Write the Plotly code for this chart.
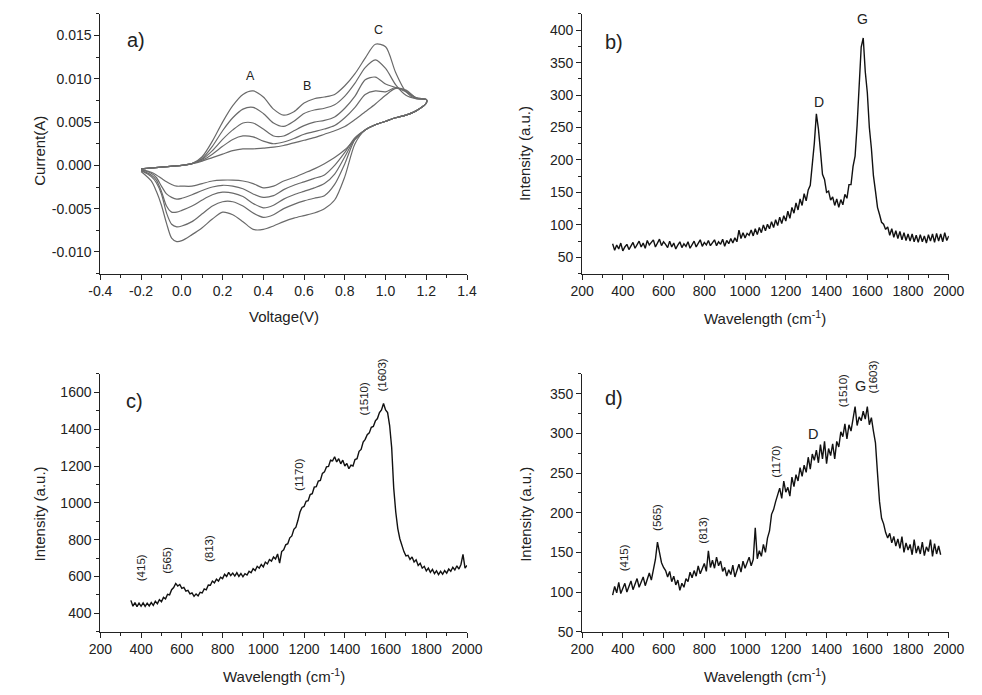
import plotly.graph_objects as go

# ---------------- Panel a: cyclic voltammograms (5 cycles) ----------------
CV_FWD_V = [-0.2, -0.1, 0.0, 0.05, 0.1, 0.15, 0.2, 0.25, 0.3, 0.35, 0.4, 0.45, 0.5, 0.55,
            0.6, 0.65, 0.7, 0.75, 0.8, 0.85, 0.9, 0.95, 1.0, 1.05, 1.1, 1.15, 1.2]
CV_REV_V = [1.2, 1.15, 1.1, 1.05, 1.0, 0.95, 0.9, 0.85, 0.8, 0.75, 0.7, 0.65, 0.6, 0.55, 0.5,
            0.45, 0.4, 0.35, 0.3, 0.25, 0.2, 0.15, 0.1, 0.05, 0.0, -0.025, -0.05, -0.075,
            -0.1, -0.125, -0.15, -0.2]

CV1_FWD = [-0.0004, -0.0002, 0.0000, 0.0002, 0.0010, 0.0028, 0.0050, 0.0069, 0.0082, 0.0086,
           0.0079, 0.0065, 0.0058, 0.0062, 0.0072, 0.0077, 0.0079, 0.0082, 0.0092, 0.0106,
           0.0124, 0.0140, 0.0137, 0.0107, 0.0085, 0.0077, 0.0076]
CV2_FWD = [-0.0004, -0.0002, 0.0000, 0.0002, 0.0008, 0.0022, 0.0040, 0.0055, 0.0065, 0.0067,
           0.0060, 0.0049, 0.0045, 0.0051, 0.0060, 0.0064, 0.0066, 0.0070, 0.0080, 0.0095,
           0.0113, 0.0122, 0.0112, 0.0093, 0.0081, 0.0077, 0.0076]
CV3_FWD = [-0.0004, -0.0002, 0.0000, 0.0002, 0.0007, 0.0017, 0.0030, 0.0041, 0.0049, 0.0049,
           0.0042, 0.0034, 0.0034, 0.0040, 0.0046, 0.0050, 0.0052, 0.0056, 0.0066, 0.0080,
           0.0099, 0.0102, 0.0094, 0.0090, 0.0085, 0.0078, 0.0076]
CV4_FWD = [-0.0004, -0.0002, 0.0000, 0.0002, 0.0006, 0.0013, 0.0022, 0.0030, 0.0034, 0.0033,
           0.0028, 0.0025, 0.0027, 0.0031, 0.0036, 0.0039, 0.0042, 0.0046, 0.0055, 0.0067,
           0.0082, 0.0086, 0.0085, 0.0090, 0.0086, 0.0078, 0.0076]
CV5_FWD = [-0.0004, -0.0002, 0.0000, 0.0002, 0.0005, 0.0009, 0.0013, 0.0017, 0.0019, 0.0019,
           0.0020, 0.0021, 0.0023, 0.0026, 0.0029, 0.0032, 0.0036, 0.0040, 0.0045, 0.0053,
           0.0062, 0.0071, 0.0081, 0.0089, 0.0087, 0.0078, 0.0076]

CV1_REV = [0.0072, 0.0063, 0.0058, 0.0055, 0.0051, 0.0047, 0.0041, 0.0025, -0.0013, -0.0040,
           -0.0050, -0.0055, -0.0058, -0.0061, -0.0065, -0.0070, -0.0074, -0.0074, -0.0065,
           -0.0057, -0.0054, -0.0062, -0.0072, -0.0080, -0.0087, -0.0088, -0.0084, -0.0067,
           -0.0046, -0.0030, -0.0018, -0.0007]
CV2_REV = [0.0072, 0.0063, 0.0058, 0.0055, 0.0051, 0.0047, 0.0041, 0.0030, 0.0002, -0.0022,
           -0.0035, -0.0038, -0.0041, -0.0045, -0.0050, -0.0057, -0.0060, -0.0055, -0.0047,
           -0.0042, -0.0042, -0.0047, -0.0056, -0.0065, -0.0070, -0.0071, -0.0068, -0.0055,
           -0.0033, -0.0020, -0.0013, -0.0006]
CV3_REV = [0.0072, 0.0063, 0.0058, 0.0055, 0.0051, 0.0047, 0.0041, 0.0031, 0.0010, -0.0010,
           -0.0021, -0.0026, -0.0030, -0.0034, -0.0039, -0.0046, -0.0049, -0.0044, -0.0036,
           -0.0032, -0.0031, -0.0034, -0.0040, -0.0047, -0.0052, -0.0054, -0.0054, -0.0047,
           -0.0030, -0.0017, -0.0011, -0.0006]
CV4_REV = [0.0072, 0.0063, 0.0058, 0.0055, 0.0051, 0.0047, 0.0041, 0.0032, 0.0015, 0.0000,
           -0.0011, -0.0015, -0.0019, -0.0023, -0.0028, -0.0035, -0.0037, -0.0033, -0.0027,
           -0.0024, -0.0023, -0.0025, -0.0029, -0.0034, -0.0038, -0.0039, -0.0037, -0.0033,
           -0.0024, -0.0014, -0.0009, -0.0005]
CV5_REV = [0.0072, 0.0063, 0.0058, 0.0055, 0.0051, 0.0047, 0.0041, 0.0030, 0.0018, 0.0009,
           0.0002, -0.0004, -0.0009, -0.0014, -0.0018, -0.0024, -0.0026, -0.0021, -0.0018,
           -0.0017, -0.0017, -0.0018, -0.0021, -0.0024, -0.0024, -0.0024, -0.0022, -0.0019,
           -0.0015, -0.0011, -0.0008, -0.0005]

CV_XTICKS = [-0.4, -0.2, 0.0, 0.2, 0.4, 0.6, 0.8, 1.0, 1.2, 1.4]
CV_XLABELS = ["-0.4", "-0.2", "0.0", "0.2", "0.4", "0.6", "0.8", "1.0", "1.2", "1.4"]
CV_YTICKS = [-0.010, -0.005, 0.0, 0.005, 0.010, 0.015]
CV_YLABELS = ["-0.010", "-0.005", "0.000", "0.005", "0.010", "0.015"]
CV_XMINOR = [-0.3, -0.1, 0.1, 0.3, 0.5, 0.7, 0.9, 1.1, 1.3]
CV_YMINOR = [-0.0125, -0.0075, -0.0025, 0.0025, 0.0075, 0.0125, 0.0175]

# ---------------- Raman spectra (step 10 cm-1) ----------------
WN_B = list(range(350, 2001, 10))
INT_B = [71, 61, 69, 63, 72, 60, 66, 70, 62, 68,
         73, 64, 70, 75, 66, 72, 64, 76, 69, 73,
         77, 66, 72, 78, 68, 74, 70, 65, 75, 66,
         72, 63, 69, 74, 65, 71, 67, 74, 64, 70,
         75, 66, 72, 77, 67, 73, 69, 76, 68, 72,
         77, 68, 74, 70, 78, 67, 76, 71, 79, 72,
         80, 74, 92, 79, 88, 80, 87, 84, 92, 83,
         94, 85, 96, 88, 100, 91, 101, 94, 105, 96,
         108, 99, 112, 102, 114, 106, 121, 110, 127, 118,
         134, 123, 140, 130, 148, 137, 154, 161, 192, 226,
         271, 248, 214, 178, 170, 150, 152, 138, 143, 130,
         140, 127, 139, 131, 147, 141, 162, 162, 190, 206,
         254, 306, 374, 388, 336, 304, 250, 218, 176, 152,
         127, 116, 104, 101, 93, 97, 84, 94, 81, 91,
         79, 90, 77, 88, 76, 86, 75, 86, 74, 84,
         73, 85, 74, 83, 72, 85, 75, 86, 73, 87,
         75, 86, 74, 88, 76, 83]

WN_C = list(range(350, 2001, 10))
INT_C = [470, 438, 458, 436, 455, 438, 456, 437, 455, 440,
         458, 443, 465, 452, 474, 462, 486, 478, 503, 500,
         528, 540, 562, 548, 556, 535, 540, 520, 524, 505,
         510, 492, 505, 494, 514, 510, 532, 527, 553, 552,
         575, 565, 585, 575, 596, 588, 612, 600, 622, 605,
         618, 602, 620, 600, 616, 598, 615, 608, 628, 620,
         642, 632, 655, 645, 665, 652, 678, 668, 692, 683,
         706, 695, 722, 672, 735, 745, 772, 778, 810, 820,
         856, 868, 905, 950, 975, 980, 1008, 1012, 1045, 1050,
         1085, 1088, 1118, 1122, 1160, 1168, 1195, 1198, 1232, 1228,
         1250, 1222, 1240, 1212, 1232, 1200, 1214, 1185, 1205, 1200,
         1235, 1240, 1280, 1290, 1330, 1345, 1370, 1380, 1410, 1415,
         1445, 1458, 1490, 1505, 1540, 1505, 1490, 1420, 1300, 1080,
         950, 860, 805, 762, 735, 712, 715, 692, 706, 678,
         690, 660, 672, 645, 655, 630, 645, 622, 638, 615,
         630, 610, 628, 612, 632, 618, 640, 628, 650, 635,
         658, 640, 665, 720, 645, 660]

WN_D = list(range(350, 1961, 10))
INT_D = [96, 107, 99, 112, 98, 104, 111, 100, 106, 114,
         103, 110, 117, 106, 112, 119, 108, 116, 124, 115,
         126, 141, 163, 148, 137, 131, 127, 119, 126, 113,
         120, 109, 115, 102, 111, 106, 117, 113, 125, 118,
         127, 120, 133, 123, 129, 136, 126, 152, 131, 140,
         130, 144, 133, 139, 126, 131, 120, 128, 122, 134,
         119, 127, 135, 125, 139, 130, 136, 144, 133, 141,
         181, 142, 152, 145, 160, 150, 168, 177, 198, 204,
         214, 222, 231, 218, 240, 226, 232, 221, 245, 233,
         248, 240, 257, 246, 260, 251, 270, 255, 274, 266,
         279, 263, 286, 268, 290, 262, 281, 272, 287, 268,
         290, 283, 302, 296, 312, 293, 311, 303, 320, 334,
         310, 321, 316, 328, 318, 334, 311, 320, 303, 288,
         250, 214, 193, 186, 175, 168, 174, 162, 170, 158,
         167, 155, 170, 150, 162, 153, 160, 147, 166, 149,
         158, 148, 163, 146, 157, 151, 166, 145, 161, 148,
         158, 147]

# ---------------- Figure ----------------
FONT = "Liberation Sans, Arial, Helvetica, sans-serif"
AX = "#222222"
W, H = 974, 687          # page body has an 8 px margin


def PX(x):
    return (x - 8) / W


def PY(y):
    return 1 - (y - 8) / H


fig = go.Figure()

for fwd, rev in [(CV1_FWD, CV1_REV), (CV2_FWD, CV2_REV), (CV3_FWD, CV3_REV),
                 (CV4_FWD, CV4_REV), (CV5_FWD, CV5_REV)]:
    fig.add_trace(go.Scatter(x=CV_FWD_V + CV_REV_V, y=fwd + rev, mode="lines",
                             line=dict(color="#6a6a6a", width=1.2, shape="spline", smoothing=0.8),
                             xaxis="x", yaxis="y", showlegend=False, hoverinfo="skip"))

for wn, inten, xa, ya in [(WN_B, INT_B, "x2", "y2"), (WN_C, INT_C, "x3", "y3"), (WN_D, INT_D, "x4", "y4")]:
    fig.add_trace(go.Scatter(x=wn, y=inten, mode="lines", line=dict(color="#111111", width=1.4),
                             xaxis=xa, yaxis=ya, showlegend=False, hoverinfo="skip"))


def axis(domain, anchor, rng, **kw):
    d = dict(domain=domain, anchor=anchor, range=rng, showline=True, linecolor=AX, linewidth=1,
             ticks="outside", ticklen=5, tickwidth=1, tickcolor=AX, showgrid=False,
             zeroline=False, tickfont=dict(family=FONT, size=14, color=AX))
    d.update(kw)
    return d


XL = [PX(90.7), PX(468.3)]
XR = [PX(586.7), PX(964.3)]
YT = [PY(276.7), PY(14)]
YB = [PY(639), PY(378.3)]
MINOR = dict(ticks="outside", ticklen=3, tickwidth=1, tickcolor=AX, showgrid=False)

fig.update_layout(
    width=W, height=H, margin=dict(l=0, r=0, t=0, b=0),
    paper_bgcolor="white", plot_bgcolor="white", showlegend=False,
    font=dict(family=FONT, color=AX),
    xaxis=axis(XL, "y", [-0.4, 1.4], tickmode="array", tickvals=CV_XTICKS, ticktext=CV_XLABELS,
               minor=dict(MINOR, tickmode="array", tickvals=CV_XMINOR)),
    yaxis=axis(YT, "x", [-0.0125, 0.0175], tickmode="array", tickvals=CV_YTICKS, ticktext=CV_YLABELS,
               minor=dict(MINOR, tickmode="array", tickvals=CV_YMINOR)),
    xaxis2=axis(XR, "y2", [200, 2000], tickmode="linear", tick0=200, dtick=200,
                minor=dict(MINOR, dtick=100)),
    yaxis2=axis(YT, "x2", [25, 425], tickmode="linear", tick0=50, dtick=50,
                minor=dict(MINOR, dtick=25)),
    xaxis3=axis(XL, "y3", [200, 2000], tickmode="linear", tick0=200, dtick=200,
                minor=dict(MINOR, dtick=100)),
    yaxis3=axis(YB, "x3", [300, 1700], tickmode="linear", tick0=400, dtick=200,
                minor=dict(MINOR, dtick=100)),
    xaxis4=axis(XR, "y4", [200, 2000], tickmode="linear", tick0=200, dtick=200,
                minor=dict(MINOR, dtick=100)),
    yaxis4=axis(YB, "x4", [50, 375], tickmode="linear", tick0=50, dtick=50,
                minor=dict(MINOR, dtick=25)),
)

ann = []


def txt(text, x, y, xref, yref, size, angle=0):
    ann.append(dict(text=text, x=x, y=y, xref=xref, yref=yref, showarrow=False,
                    xanchor="center", yanchor="middle", textangle=angle,
                    font=dict(family=FONT, size=size, color=AX)))


# panel letters
txt("a)", 0.096, 0.901, "x domain", "y domain", 20)
txt("b)", 0.088, 0.893, "x2 domain", "y2 domain", 20)
txt("c)", 0.093, 0.895, "x3 domain", "y3 domain", 20)
txt("d)", 0.088, 0.905, "x4 domain", "y4 domain", 20)

# panel a peak labels
txt("A", 0.335, 0.0103, "x", "y", 12.5)
txt("B", 0.612, 0.0092, "x", "y", 12.5)
txt("C", 0.965, 0.0157, "x", "y", 12.5)

# panel b
txt("D", 1361, 289, "x2", "y2", 14)
txt("G", 1576, 417, "x2", "y2", 14)

# panel c
for t, x, y in [("(415)", 400, 645), ("(565)", 527, 690), ("(813)", 737, 753),
                ("(1170)", 1174, 1156), ("(1510)", 1496, 1564), ("(1603)", 1584, 1693)]:
    txt(t, x, y, "x3", "y3", 11.5, -90)

# panel d
for t, x, y in [("(415)", 403, 143), ("(565)", 570, 194), ("(813)", 796, 178),
                ("(1170)", 1155, 265), ("(1510)", 1479, 354), ("(1603)", 1630, 371)]:
    txt(t, x, y, "x4", "y4", 11.5, -90)
txt("D", 1333, 299, "x4", "y4", 14.5)
txt("G", 1566, 360, "x4", "y4", 14.5)

# axis titles
WL = "Wavelength (cm<sup>-1</sup>)"
txt("Current(A)", PX(28), PY(152), "paper", "paper", 15, -90)
txt("Voltage(V)", PX(279.5), PY(320), "paper", "paper", 15)
txt("Intensity (a.u.)", PX(527.7), PY(155), "paper", "paper", 15, -90)
txt(WL, PX(775.5), PY(321), "paper", "paper", 15)
txt("Intensity (a.u.)", PX(28), PY(520), "paper", "paper", 15, -90)
txt(WL, PX(279.5), PY(683), "paper", "paper", 15)
txt("Intensity (a.u.)", PX(527.7), PY(520), "paper", "paper", 15, -90)
txt(WL, PX(775.5), PY(683), "paper", "paper", 15)

fig.update_layout(annotations=ann)
fig.write_html("out.html")
